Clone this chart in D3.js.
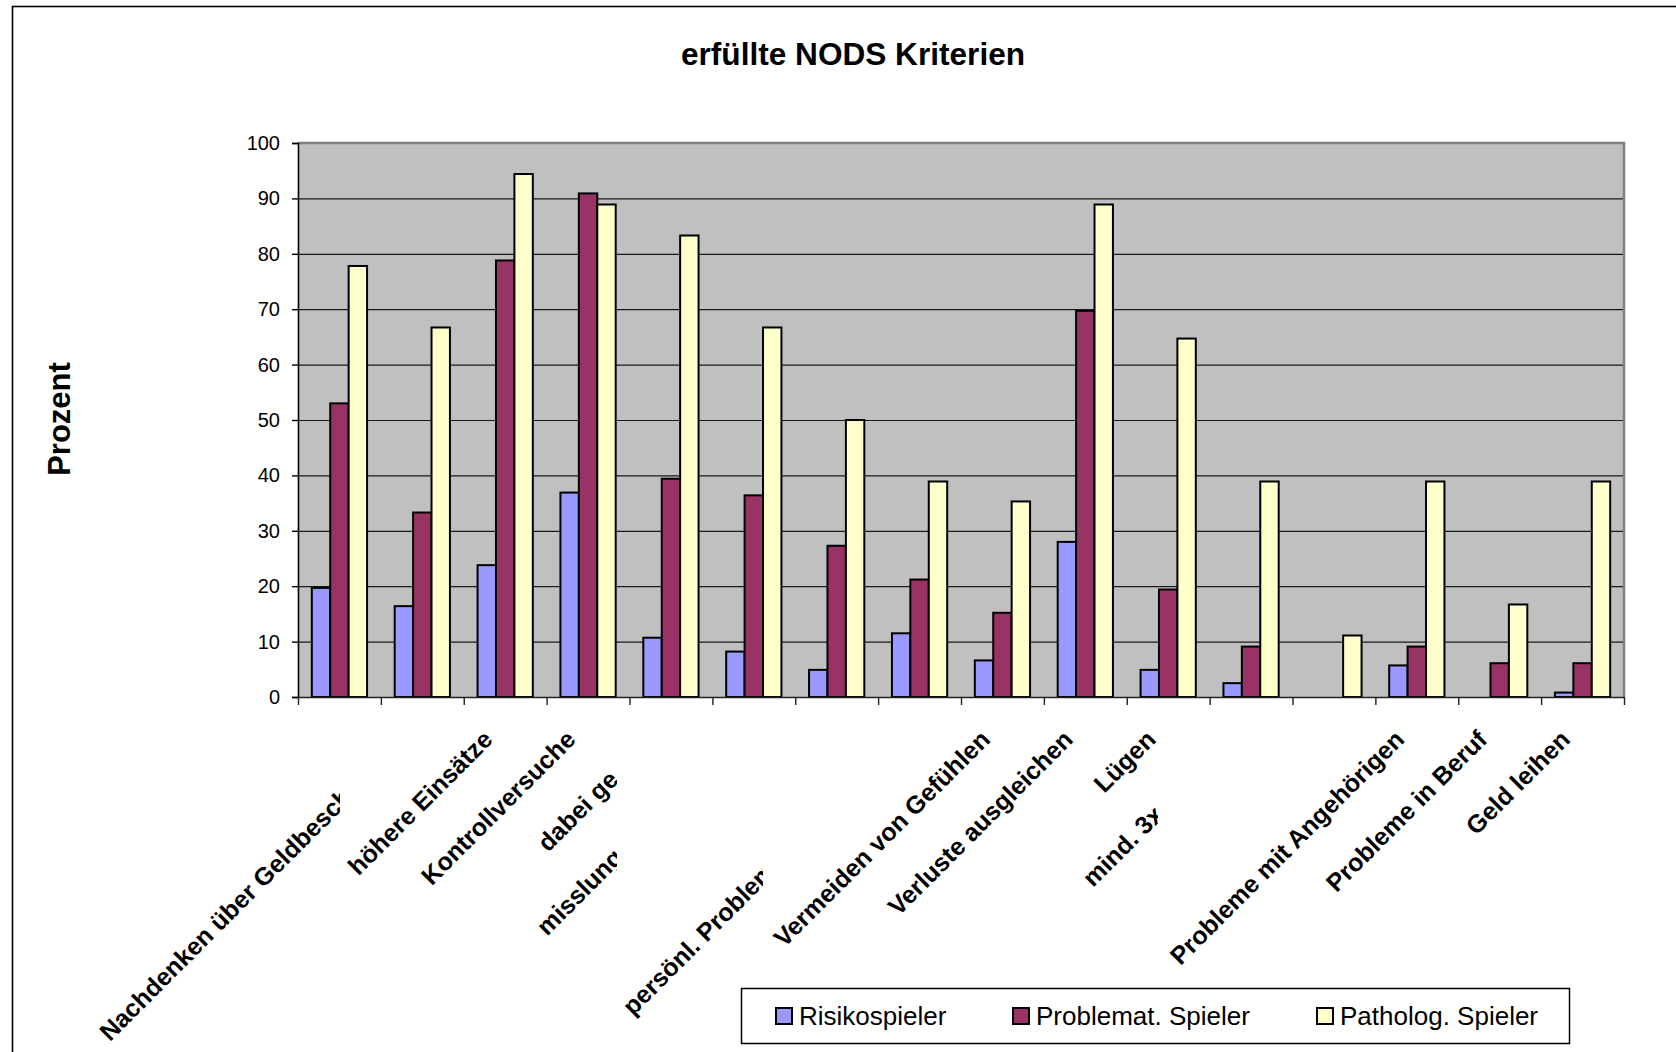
<!DOCTYPE html>
<html>
<head>
<meta charset="utf-8">
<script src="https://cdn.jsdelivr.net/npm/d3@7"></script>
<style>
  html, body { margin: 0; padding: 0; background: #ffffff; }
  svg { display: block; font-family: "Liberation Sans", Arial, Helvetica, sans-serif; }
</style>
</head>
<body>
<svg id="chart" width="1676" height="1052"></svg>
<script>
// ---- data -------------------------------------------------------------
const categories = [
  "",
  "Nachdenken über Geldbesch",
  "höhere Einsätze",
  "Kontrollversuche",
  "dabei ge",
  "misslung",
  "",
  "persönl. Problem",
  "Vermeiden von Gefühlen",
  "Verluste ausgleichen",
  "Lügen",
  "mind. 3x",
  "",
  "Probleme mit Angehörigen",
  "Probleme in Beruf",
  "Geld leihen"
];

const seriesNames = ["Risikospieler", "Problemat. Spieler", "Patholog. Spieler"];

const risikospieler     = [19.7, 16.4, 23.8, 36.9, 10.7, 8.2, 4.9, 11.5, 6.6, 28.0, 4.9, 2.5, 0, 5.7, 0, 0.8];
const problematSpieler  = [53.0, 33.3, 78.8, 90.9, 39.4, 36.4, 27.3, 21.2, 15.2, 69.7, 19.4, 9.1, 0, 9.1, 6.1, 6.1];
const pathologSpieler   = [77.8, 66.7, 94.4, 88.9, 83.3, 66.7, 50.0, 38.9, 35.3, 88.9, 64.7, 38.9, 11.1, 38.9, 16.7, 38.9];

const yTicks = [0, 10, 20, 30, 40, 50, 60, 70, 80, 90, 100];

const titleText = "erfüllte NODS Kriterien";
const yTitleText = "Prozent";

// ---- styling / layout -------------------------------------------------
const seriesColors = ["#9999FF", "#993366", "#FFFFCC"];
const plot = { left: 298, right: 1624, top: 143, bottom: 697 };
const labelFont = 25;
// long category captions are cut off at a vertical edge
const clippedLabels = new Map([
  [1,  { start: 110,  clip: 340 }],
  [4,  { start: 548,  clip: 617 }],
  [5,  { start: 547,  clip: 617 }],
  [7,  { start: 633,  clip: 763 }],
  [11, { start: 1093, clip: 1158 }]
]);

const series = [risikospieler, problematSpieler, pathologSpieler];

const svg = d3.select("#chart");
const defs = svg.append("defs");

// chart-area frame
svg.append("rect")
  .attr("x", 12.5).attr("y", 6.5)
  .attr("width", 1720).attr("height", 1120)
  .attr("fill", "none").attr("stroke", "#000").attr("stroke-width", 1.6);

// scales
const x0 = d3.scaleBand()
  .domain(d3.range(categories.length))
  .range([plot.left, plot.right])
  .padding(0);

const x1 = d3.scaleBand()
  .domain(d3.range(series.length))
  .range([0, x0.bandwidth()])
  .paddingInner(0)
  .paddingOuter(0.75);

const y = d3.scaleLinear().domain([0, 100]).range([plot.bottom, plot.top]);

const xTickScale = d3.scaleLinear()
  .domain([0, categories.length])
  .range([plot.left, plot.right]);

// plot background
svg.append("rect")
  .attr("x", plot.left).attr("y", plot.top)
  .attr("width", plot.right - plot.left).attr("height", plot.bottom - plot.top)
  .attr("fill", "#C0C0C0");

// gridlines
const grid = svg.append("g")
  .attr("transform", `translate(${plot.left},0)`)
  .call(d3.axisLeft(y)
    .tickValues(yTicks.filter(v => v > 0 && v < 100))
    .tickSize(-(plot.right - plot.left))
    .tickFormat(""));
grid.select(".domain").remove();
grid.selectAll(".tick line").attr("stroke", "#1a1a1a").attr("stroke-width", 1.2);

// plot border (top / right)
svg.append("path")
  .attr("d", `M${plot.left},${plot.top}H${plot.right}V${plot.bottom}`)
  .attr("fill", "none").attr("stroke", "#808080").attr("stroke-width", 2.5);

// bars
const groups = svg.append("g").selectAll("g")
  .data(d3.range(categories.length))
  .join("g")
  .attr("transform", i => `translate(${x0(i)},0)`);

groups.selectAll("rect")
  .data(i => series.map((s, k) => ({ k, v: s[i] })).filter(d => d.v > 0))
  .join("rect")
  .attr("x", d => x1(d.k))
  .attr("y", d => y(d.v))
  .attr("width", x1.bandwidth())
  .attr("height", d => y(0) - y(d.v))
  .attr("fill", d => seriesColors[d.k])
  .attr("stroke", "#000")
  .attr("stroke-width", 2);

// y axis
const yAxis = svg.append("g")
  .attr("transform", `translate(${plot.left},0)`)
  .call(d3.axisLeft(y).tickValues(yTicks).tickSize(6).tickPadding(12).tickFormat(d3.format("d")));
yAxis.select(".domain").attr("stroke", "#000").attr("stroke-width", 1.6);
yAxis.selectAll(".tick line").attr("stroke", "#000").attr("stroke-width", 1.4);
yAxis.selectAll(".tick text")
  .attr("font-size", 20).attr("fill", "#000")
  .attr("font-family", "'Liberation Sans', Arial, sans-serif");

// x axis
const xAxis = svg.append("g")
  .attr("transform", `translate(0,${plot.bottom})`)
  .call(d3.axisBottom(xTickScale)
    .tickValues(d3.range(categories.length + 1))
    .tickSize(8).tickSizeOuter(0).tickFormat(""));
xAxis.select(".domain").attr("stroke", "#222").attr("stroke-width", 1.6);
xAxis.selectAll(".tick line").attr("stroke", "#222").attr("stroke-width", 1.4);

// category labels, rotated 45°
const labelLayer = svg.append("g")
  .attr("font-size", labelFont).attr("font-weight", "bold").attr("fill", "#000");

categories.forEach((name, i) => {
  if (!name) return;
  const center = x0(i) + x0.bandwidth() / 2;
  const diag = center + 730;            // x + y is constant along the label's baseline
  const cut = clippedLabels.get(i);
  if (cut) {
    const cp = defs.append("clipPath").attr("id", `cut${i}`);
    cp.append("rect").attr("x", 0).attr("y", plot.bottom).attr("width", cut.clip).attr("height", 400);
    labelLayer.append("g").attr("clip-path", `url(#cut${i})`)
      .append("text")
      .attr("text-anchor", "start")
      .attr("transform", `translate(${cut.start},${diag - cut.start}) rotate(-45)`)
      .text(name);
  } else {
    const ex = center - 11;
    labelLayer.append("text")
      .attr("text-anchor", "end")
      .attr("transform", `translate(${ex},${diag - ex}) rotate(-45)`)
      .text(name);
  }
});

// title
svg.append("text")
  .attr("x", 853).attr("y", 65)
  .attr("text-anchor", "middle")
  .attr("font-size", 31.6).attr("font-weight", "bold")
  .text(titleText);

// y-axis title
svg.append("text")
  .attr("transform", "translate(70,419) rotate(-90)")
  .attr("text-anchor", "middle")
  .attr("font-size", 31).attr("font-weight", "bold")
  .text(yTitleText);

// legend
const legend = svg.append("g");
legend.append("rect")
  .attr("x", 741.5).attr("y", 988.5).attr("width", 828).attr("height", 55)
  .attr("fill", "#fff").attr("stroke", "#000").attr("stroke-width", 1.5);

const legendX = [776, 1013, 1317];
const items = legend.selectAll("g.item")
  .data(seriesNames)
  .join("g")
  .attr("class", "item")
  .attr("transform", (d, k) => `translate(${legendX[k]},1008)`);
items.append("rect")
  .attr("width", 16).attr("height", 16)
  .attr("fill", (d, k) => seriesColors[k])
  .attr("stroke", "#000").attr("stroke-width", 2);
items.append("text")
  .attr("x", 23).attr("y", 17)
  .attr("font-size", 26)
  .text(d => d);
</script>
</body>
</html>
